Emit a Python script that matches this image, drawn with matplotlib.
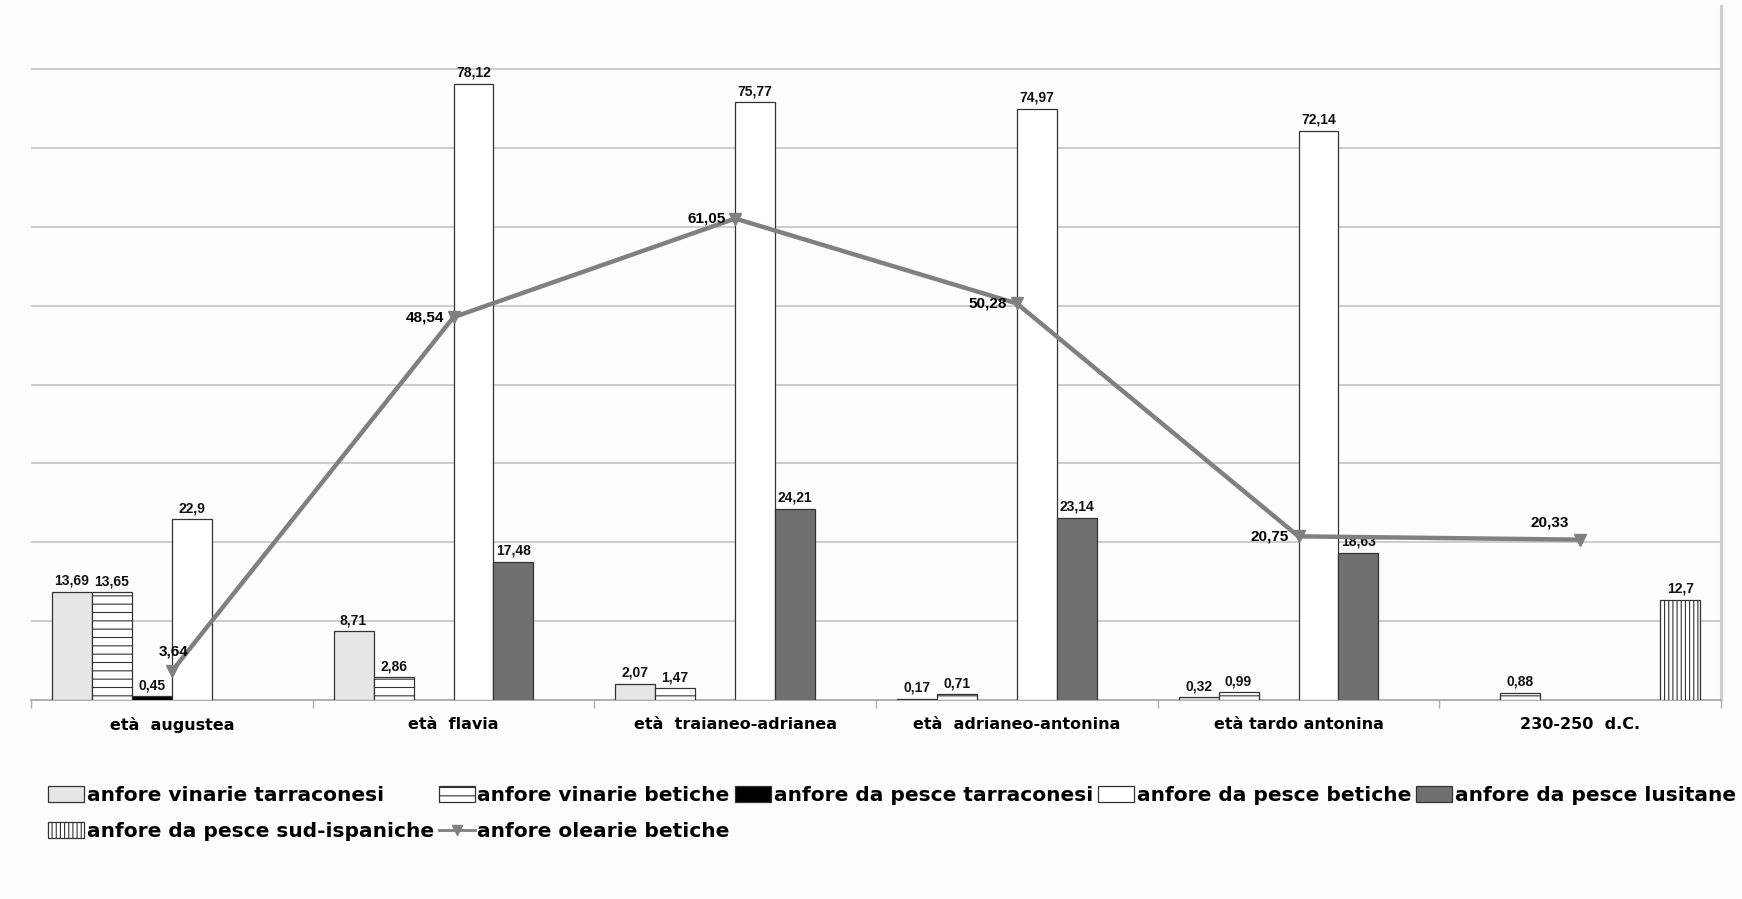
import matplotlib
matplotlib.use("Agg")
import matplotlib.pyplot as plt
import numpy as np
from matplotlib.patches import Patch
from matplotlib.lines import Line2D

# ---------------- data ----------------
categories = ["età  augustea", "età  flavia", "età  traianeo-adrianea",
              "età  adrianeo-antonina", "età tardo antonina", "230-250  d.C."]

vinarie_tarraconesi = [13.69, 8.71, 2.07, 0.17, 0.32, None]
vinarie_betiche = [13.65, 2.86, 1.47, 0.71, 0.99, 0.88]
pesce_tarraconesi = [0.45, None, None, None, None, None]
pesce_betiche = [22.9, 78.12, 75.77, 74.97, 72.14, None]
pesce_lusitane = [None, 17.48, 24.21, 23.14, 18.63, None]
pesce_sud_ispaniche = [None, None, None, None, None, 12.7]
olearie_betiche = [3.64, 48.54, 61.05, 50.28, 20.75, 20.33]

series_names = ["anfore vinarie tarraconesi", "anfore vinarie betiche",
                "anfore da pesce tarraconesi", "anfore da pesce betiche",
                "anfore da pesce lusitane", "anfore da pesce sud-ispaniche"]
line_name = "anfore olearie betiche"

# ---------------- style ----------------
bar_series = [vinarie_tarraconesi, vinarie_betiche, pesce_tarraconesi,
              pesce_betiche, pesce_lusitane, pesce_sud_ispaniche]
face_colors = ["#e6e6e6", "#ffffff", "#000000", "#ffffff", "#707070", "#ffffff"]
hatches = [None, "--", None, None, None, "||||"]
edge = "#333333"
line_color = "#808080"
bg = "#fdfdfd"
num_font = ["Liberation Sans", "DejaVu Sans"]

plt.rcParams["hatch.linewidth"] = 0.8

fig = plt.figure(figsize=(17.42, 8.99), dpi=100, facecolor=bg)
ax = fig.add_axes([31 / 1742, 1 - 700 / 899, (1721 - 31) / 1742, 694 / 899])
ax.set_facecolor(bg)

x = np.arange(len(categories))
n = len(bar_series)
w = 0.142

for i, (vals, fc, h) in enumerate(zip(bar_series, face_colors, hatches)):
    xs = [xi + (i - (n - 1) / 2) * w for xi, v in zip(x, vals) if v is not None]
    vs = [v for v in vals if v is not None]
    bars = ax.bar(xs, vs, width=w, color=fc, edgecolor=edge, linewidth=0.9,
                  hatch=h, zorder=3)
    ax.bar_label(bars, labels=[str(v).replace(".", ",") for v in vs],
                 padding=3, fontsize=10, fontweight="bold",
                 family=num_font, color="#111111")

ax.plot(x, olearie_betiche, color=line_color, lw=3.2, marker="v",
        markersize=8, zorder=5, solid_joinstyle="miter")

for i, (xi, v) in enumerate(zip(x, olearie_betiche)):
    txt = str(v).replace(".", ",")
    if i == 0:
        kw = dict(xytext=(1, 9), ha="center", va="bottom")
    elif i == len(x) - 1:
        kw = dict(xytext=(-8, 7), ha="right", va="bottom")
    else:
        kw = dict(xytext=(-7, 0), ha="right", va="center")
    ax.annotate(txt, (xi, v), textcoords="offset points", fontsize=11,
                fontweight="bold", family=num_font, zorder=6, **kw)

ax.set_xlim(-0.5, len(categories) - 0.5)
ax.set_ylim(0, 88)
ax.set_yticks(np.arange(10, 81, 10))
ax.yaxis.grid(True, color="#c8c8c8", lw=1.3, zorder=0)
ax.tick_params(axis="y", left=False, labelleft=False)

ax.set_xticks(x)
ax.set_xticklabels(categories, fontsize=11.5, fontweight="bold",
                   family="DejaVu Sans")
ax.tick_params(axis="x", which="major", length=0, pad=12)
ax.set_xticks(np.arange(-0.5, len(categories), 1.0), minor=True)
ax.tick_params(axis="x", which="minor", length=6, color="#b0b0b0", width=1)

for s in ["top", "left"]:
    ax.spines[s].set_visible(False)
ax.spines["bottom"].set_color("#a8a8a8")
ax.spines["bottom"].set_linewidth(1.3)
ax.spines["right"].set_color("#d0d0d0")
ax.spines["right"].set_linewidth(2.2)

# legend (reordered so rows read left to right)
handles = [Patch(facecolor=fc, edgecolor=edge, hatch=h, linewidth=0.9)
           for fc, h in zip(face_colors, hatches)]
handles.append(Line2D([], [], color=line_color, lw=2, marker="v", markersize=7))
labels = series_names + [line_name]
order = [0, 5, 1, 6, 2, 3, 4]
leg = fig.legend([handles[k] for k in order], [labels[k] for k in order],
                 loc="upper left", bbox_to_anchor=(48 / 1742, 1 - 786 / 899),
                 ncol=5, frameon=False, borderpad=0, borderaxespad=0,
                 handlelength=1.8, handleheight=0.85, handletextpad=0.12,
                 columnspacing=0.25, labelspacing=0.85,
                 prop={"family": "DejaVu Sans", "weight": "bold", "size": 14.5})

fig.savefig("out.png", dpi=100, facecolor=bg)
